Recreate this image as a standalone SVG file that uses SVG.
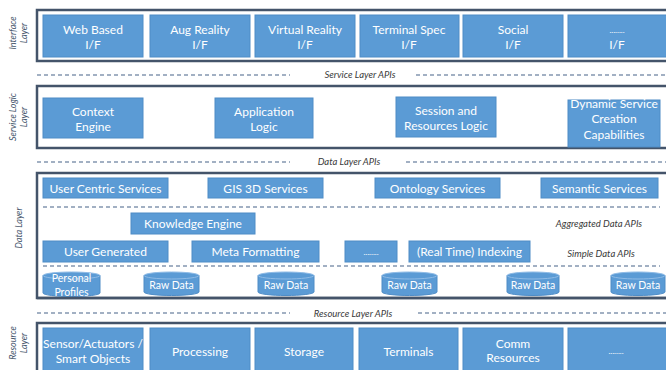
<svg xmlns="http://www.w3.org/2000/svg" width="666" height="370" viewBox="0 0 666 370">
<style>
  .frame{fill:#ffffff;stroke:#44546a;stroke-width:2.5}
  .box{fill:#5b9bd5;stroke:#4e8cc6;stroke-width:1}
  .t{font-family:Lato,"Liberation Sans",sans-serif;font-size:12px;fill:#ffffff;text-anchor:middle;dominant-baseline:central}
  .ts{font-family:Lato,"Liberation Sans",sans-serif;font-size:10.5px;fill:#ffffff;text-anchor:middle;dominant-baseline:central}
  .dots{font-family:Lato,"Liberation Sans",sans-serif;font-size:8px;fill:#ffffff;text-anchor:middle;dominant-baseline:central}
  .lay{font-family:Lato,"Liberation Sans",sans-serif;font-size:9px;font-style:italic;fill:#44546a;text-anchor:middle}
  .api{font-family:Lato,"Liberation Sans",sans-serif;font-size:9.5px;font-style:italic;fill:#3a3a3a;text-anchor:middle;dominant-baseline:central}
  .dash{stroke:#8497b0;stroke-width:1.3;stroke-dasharray:4 3;fill:none}
  .cyl{fill:#5b9bd5;stroke:#4e8cc6;stroke-width:1}
  .cyltop{fill:#5b9bd5;stroke:#8fbbe6;stroke-width:1}
</style>

<!-- Layer labels -->
<g id="layer-labels">
  <text class="lay" transform="rotate(-90 16 33)" x="16" y="33">Interface</text>
  <text class="lay" transform="rotate(-90 27 33)" x="27" y="33">Layer</text>
  <text class="lay" transform="rotate(-90 16 117)" x="16" y="117">Service Logic</text>
  <text class="lay" transform="rotate(-90 27 117)" x="27" y="117">Layer</text>
  <text class="lay" transform="rotate(-90 22 228)" x="22" y="228">Data Layer</text>
  <text class="lay" transform="rotate(-90 16 343)" x="16" y="343">Resource</text>
  <text class="lay" transform="rotate(-90 27 343)" x="27" y="343">Layer</text>
</g>

<!-- Frames -->
<g id="interface-layer">
  <rect class="frame" x="37" y="10" width="650" height="51"/>
  <g id="web-based"><rect class="box" x="43" y="15" width="100" height="42"/><text class="t" x="93" y="29">Web Based</text><text class="t" x="93" y="44">I/F</text></g>
  <g id="aug-reality"><rect class="box" x="150" y="15" width="100" height="42"/><text class="t" x="200" y="29">Aug Reality</text><text class="t" x="200" y="44">I/F</text></g>
  <g id="virtual-reality"><rect class="box" x="255" y="15" width="100" height="42"/><text class="t" x="305" y="29">Virtual Reality</text><text class="t" x="305" y="44">I/F</text></g>
  <g id="terminal-spec"><rect class="box" x="360" y="15" width="99" height="42"/><text class="t" x="409" y="29">Terminal Spec</text><text class="t" x="409" y="44">I/F</text></g>
  <g id="social"><rect class="box" x="463" y="15" width="100" height="42"/><text class="t" x="513" y="29">Social</text><text class="t" x="513" y="44">I/F</text></g>
  <g id="other-if"><rect class="box" x="568" y="15" width="105" height="42"/><text class="dots" x="617" y="30">........</text><text class="t" x="617" y="44">I/F</text></g>
</g>

<g id="service-logic-layer">
  <rect class="frame" x="37" y="86" width="650" height="62"/>
  <g id="context-engine"><rect class="box" x="43" y="98" width="100" height="40"/><text class="t" x="93" y="111">Context</text><text class="t" x="93" y="126">Engine</text></g>
  <g id="application-logic"><rect class="box" x="215" y="98" width="98" height="40"/><text class="t" x="264" y="111">Application</text><text class="t" x="264" y="126">Logic</text></g>
  <g id="session-logic"><rect class="box" x="396" y="97" width="100" height="40"/><text class="t" x="446" y="110">Session and</text><text class="t" x="446" y="125">Resources Logic</text></g>
  <g id="dynamic-service"><rect class="box" x="568" y="100" width="92" height="47"/><text class="t" x="614" y="103">Dynamic Service</text><text class="t" x="614" y="118">Creation</text><text class="t" x="614" y="134">Capabilities</text></g>
</g>

<g id="data-layer">
  <rect class="frame" x="37" y="173" width="650" height="125"/>
  <g id="user-centric"><rect class="box" x="43" y="178" width="125" height="20"/><text class="t" x="105.5" y="188">User Centric Services</text></g>
  <g id="gis-3d"><rect class="box" x="208" y="178" width="115" height="20"/><text class="t" x="265.5" y="188">GIS 3D Services</text></g>
  <g id="ontology"><rect class="box" x="375" y="178" width="125" height="20"/><text class="t" x="437.5" y="188">Ontology Services</text></g>
  <g id="semantic"><rect class="box" x="541" y="178" width="117" height="20"/><text class="t" x="599.5" y="188">Semantic Services</text></g>
  <g id="knowledge-engine"><rect class="box" x="131" y="213" width="124" height="21"/><text class="t" x="193" y="223.5">Knowledge Engine</text></g>
  <g id="user-generated"><rect class="box" x="43" y="241" width="125" height="21"/><text class="t" x="105.5" y="251.5">User Generated</text></g>
  <g id="meta-formatting"><rect class="box" x="192" y="241" width="127" height="21"/><text class="t" x="255.5" y="251.5">Meta Formatting</text></g>
  <g id="other-data"><rect class="box" x="345" y="241" width="52" height="21"/><text class="dots" x="371" y="251.5">........</text></g>
  <g id="indexing"><rect class="box" x="409" y="241" width="121" height="21"/><text class="t" x="469.5" y="251.5">(Real Time) Indexing</text></g>
  <g id="personal-profiles">
    <path class="cyl" d="M43,275.5 L43,293 A28.5,3.5 0 0 0 100,293 L100,275.5 Z"/>
    <ellipse class="cyltop" cx="71.5" cy="275.5" rx="28.5" ry="3.5"/>
    <text class="ts" x="71.5" y="278">Personal</text>
    <text class="ts" x="71.5" y="292">Profiles</text>
  </g>
  <g id="raw-data-1">
    <path class="cyl" d="M144,275.5 L144,292 A27.5,3.5 0 0 0 199,292 L199,275.5 Z"/>
    <ellipse class="cyltop" cx="171.5" cy="275.5" rx="27.5" ry="3.5"/>
    <text class="ts" x="171.5" y="285">Raw Data</text>
  </g>
  <g id="raw-data-2">
    <path class="cyl" d="M258,275.5 L258,292 A28,3.5 0 0 0 314,292 L314,275.5 Z"/>
    <ellipse class="cyltop" cx="286" cy="275.5" rx="28" ry="3.5"/>
    <text class="ts" x="286" y="285">Raw Data</text>
  </g>
  <g id="raw-data-3">
    <path class="cyl" d="M382,275.5 L382,292 A27.5,3.5 0 0 0 437,292 L437,275.5 Z"/>
    <ellipse class="cyltop" cx="409.5" cy="275.5" rx="27.5" ry="3.5"/>
    <text class="ts" x="409.5" y="285">Raw Data</text>
  </g>
  <g id="raw-data-4">
    <path class="cyl" d="M507,275.5 L507,292 A26,3.5 0 0 0 559,292 L559,275.5 Z"/>
    <ellipse class="cyltop" cx="533" cy="275.5" rx="26" ry="3.5"/>
    <text class="ts" x="533" y="285">Raw Data</text>
  </g>
  <g id="raw-data-5">
    <path class="cyl" d="M611,275.5 L611,292 A27,3.5 0 0 0 665,292 L665,275.5 Z"/>
    <ellipse class="cyltop" cx="638" cy="275.5" rx="27" ry="3.5"/>
    <text class="ts" x="638" y="285">Raw Data</text>
  </g>
  <line x1="37" y1="298" x2="687" y2="298" stroke="#44546a" stroke-width="2.5"/>
  <text class="api" x="599" y="223">Aggregated Data APIs</text>
  <text class="api" x="601" y="253">Simple Data APIs</text>
</g>

<g id="resource-layer">
  <rect class="frame" x="37" y="323" width="650" height="60"/>
  <g id="sensors"><rect class="box" x="43" y="328" width="100" height="44"/><text class="t" x="93" y="343">Sensor/Actuators /</text><text class="t" x="93" y="358">Smart Objects</text></g>
  <g id="processing"><rect class="box" x="150" y="328" width="100" height="44"/><text class="t" x="200" y="351">Processing</text></g>
  <g id="storage"><rect class="box" x="255" y="328" width="98" height="44"/><text class="t" x="304" y="351">Storage</text></g>
  <g id="terminals"><rect class="box" x="359" y="328" width="99" height="44"/><text class="t" x="408.5" y="351">Terminals</text></g>
  <g id="comm-resources"><rect class="box" x="463" y="328" width="100" height="44"/><text class="t" x="513" y="343">Comm</text><text class="t" x="513" y="357">Resources</text></g>
  <g id="other-resource"><rect class="box" x="568" y="328" width="105" height="44"/><text class="dots" x="616" y="351">........</text></g>
</g>

<!-- API separators -->
<g id="connectors">
  <line class="dash" x1="37" y1="75" x2="290" y2="75"/>
  <line class="dash" x1="416" y1="75" x2="666" y2="75"/>
  <line class="dash" x1="37" y1="162" x2="290" y2="162"/>
  <line class="dash" x1="406" y1="162" x2="666" y2="162"/>
  <line class="dash" x1="43" y1="207" x2="660" y2="207"/>
  <line class="dash" x1="43" y1="266" x2="660" y2="266"/>
  <line class="dash" x1="37" y1="313" x2="290" y2="313"/>
  <line class="dash" x1="418" y1="313" x2="666" y2="313"/>
  <text class="api" x="360" y="74.5">Service Layer APIs</text>
  <text class="api" x="349" y="161">Data Layer APIs</text>
  <text class="api" x="353" y="313">Resource Layer APIs</text>
</g>
</svg>
